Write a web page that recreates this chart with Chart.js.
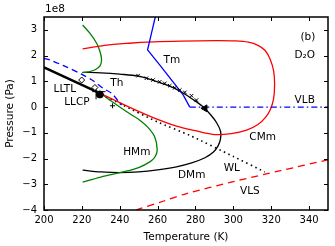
<!DOCTYPE html>
<html>
<head>
<meta charset="utf-8">
<script src="https://cdn.jsdelivr.net/npm/chart.js@4.4.0/dist/chart.umd.min.js"></script>
<style>
  html, body { margin: 0; padding: 0; background: #fff; }
</style>
</head>
<body>
<canvas id="phase" width="335" height="246"></canvas>
<script>
// temperature in K, pressure in units of 1e8 Pa
const xTicks = [200, 220, 240, 260, 280, 300, 320, 340];
const yTicks = [-4, -3, -2, -1, 0, 1, 2, 3];

// CMm (red loop)
const cmmT = [220.4, 232, 245, 258, 272, 290, 301, 308, 313, 316.8, 319.5, 321.3, 321.8, 321.2, 319.5, 317, 313, 307, 299, 289, 280, 270, 260, 250, 240, 230.5];
const cmmP = [2.26, 2.4, 2.48, 2.53, 2.56, 2.58, 2.57, 2.52, 2.4, 2.2, 1.85, 1.4, 0.86, 0.3, -0.1, -0.4, -0.68, -0.9, -1.03, -1.06, -0.92, -0.74, -0.48, -0.17, 0.17, 0.5];

// HMm (green), two branches
const hmmUpT = [220.4, 224.2, 227.8, 229.6, 230.4, 229.6, 227, 223.5, 220.2];
const hmmUpP = [3.19, 2.87, 2.48, 2.15, 1.85, 1.6, 1.45, 1.37, 1.34];
const hmmLowT = [230.5, 234.8, 240, 245.5, 250.6, 255, 258.5, 259.8, 258.5, 255.9, 250, 241.8, 230, 220.4];
const hmmLowP = [0.5, 0.27, 0.0, -0.27, -0.51, -0.8, -1.16, -1.67, -1.95, -2.13, -2.35, -2.52, -2.72, -2.92];

// Th / DMm (thin black)
const dmmT = [220.4, 230, 240, 250, 257.6, 265, 270, 275, 280, 284, 288, 291.1, 293.3, 293.2, 292, 289.5, 285, 278, 270, 260, 250, 240, 230, 220.4];
const dmmP = [1.35, 1.33, 1.28, 1.2, 1.04, 0.85, 0.69, 0.48, 0.23, 0.01, -0.3, -0.6, -0.95, -1.25, -1.5, -1.75, -1.97, -2.17, -2.32, -2.44, -2.52, -2.55, -2.52, -2.45];

// Tm (blue) and VLB (blue dash-dot)
const tmT = [259.1, 254.7, 261.2, 273.5, 277];
const tmP = [3.6, 2.22, 1.63, 0.47, 0.0];
const vlbT = [277, 350];
const vlbP = [0, 0];

// blue dashed line
const bdT = [200, 203.1, 210, 219.8, 226, 231.2, 235.7, 241];
const bdP = [1.89, 1.83, 1.62, 1.28, 1.02, 0.73, 0.53, 0.08];

// LLTL (thick black)
const lltlT = [200, 230];
const lltlP = [1.54, 0.52];

// WL (dotted) and VLS (red dashed)
const wlT = [230.5, 241, 260, 277, 300, 316.6];
const wlP = [0.5, 0.1, -0.58, -1.1, -1.92, -2.52];
const vlsT = [248.5, 262.9, 275.3, 300, 325, 350];
const vlsP = [-4.0, -3.66, -3.36, -2.9, -2.47, -2.05];

// markers
const simT = [249.7, 254.1, 257.6, 261.1, 263.8, 266.4, 269.1, 271.7, 274.4, 277.9, 280.5];
const simP = [1.22, 1.12, 1.05, 0.98, 0.92, 0.83, 0.75, 0.66, 0.57, 0.44, 0.27];
const diaT = [219.9, 226.9];
const diaP = [1.05, 0.76];
const llcpT = [229.5];
const llcpP = [0.49];
const errHT = [225.5, 232.5];
const errHP = [0.6, 0.6];
const errVT = [227.5, 227.5];
const errVP = [0.3, 0.78];
const plusT = [236.2];
const plusP = [0.05];
const arrowT = [285];
const arrowP = [-0.05];

// labels
const labelText = ["(b)", "D\u2082O", "VLB", "Tm", "Th", "LLTL", "LLCP", "HMm", "DMm", "CMm", "WL", "VLS"];
const labelT = [339.4, 337.7, 337.7, 267.5, 238.5, 211, 217.4, 249, 278, 315.5, 299.2, 308.7];
const labelP = [2.72, 2.02, 0.27, 1.83, 0.93, 0.7, 0.19, -1.75, -2.65, -1.17, -2.37, -3.27];

function pts(T, P) {
  return T.map((t, i) => ({ x: t, y: P[i] }));
}

function curve(T, P, color, width, dash, tension) {
  return {
    data: pts(T, P),
    showLine: true,
    borderColor: color,
    borderWidth: width,
    borderDash: dash || [],
    pointRadius: 0,
    tension: tension || 0,
  };
}

function marks(T, P, style, radius, fill, rotation) {
  return {
    data: pts(T, P),
    showLine: false,
    pointStyle: style,
    pointRadius: radius,
    pointBorderColor: "#000",
    pointBackgroundColor: fill,
    pointBorderWidth: 1,
    pointRotation: rotation || 0,
  };
}

const font = "DejaVu Sans";

const decor = {
  id: "decor",
  afterDraw(chart) {
    const { ctx, chartArea: a, scales } = chart;
    const sx = scales.x, sy = scales.y;
    ctx.save();
    ctx.strokeStyle = "#000";
    ctx.lineWidth = 1;
    ctx.beginPath();
    xTicks.forEach((v) => {
      const px = Math.round(sx.getPixelForValue(v)) + 0.5;
      ctx.moveTo(px, a.bottom);
      ctx.lineTo(px, a.bottom - 4);
      ctx.moveTo(px, a.top);
      ctx.lineTo(px, a.top + 4);
    });
    yTicks.forEach((v) => {
      const py = Math.round(sy.getPixelForValue(v)) + 0.5;
      ctx.moveTo(a.left, py);
      ctx.lineTo(a.left + 4, py);
      ctx.moveTo(a.right, py);
      ctx.lineTo(a.right - 4, py);
    });
    ctx.stroke();
    ctx.lineWidth = 1.5;
    ctx.strokeRect(a.left, a.top, a.right - a.left, a.bottom - a.top);

    ctx.fillStyle = "#000";
    ctx.font = "10.5px '" + font + "'";
    ctx.textAlign = "center";
    ctx.textBaseline = "middle";
    labelText.forEach((s, i) => {
      ctx.fillText(s, sx.getPixelForValue(labelT[i]), sy.getPixelForValue(labelP[i]));
    });
    ctx.textAlign = "left";
    ctx.fillText("1e8", a.left + 1, 9);
    ctx.restore();
  },
};

new Chart(document.getElementById("phase"), {
  type: "scatter",
  data: {
    datasets: [
      marks(llcpT, llcpP, "circle", 3.5, "#000"),
      marks(arrowT, arrowP, "triangle", 4, "#000", 150),
      marks(simT, simP, "crossRot", 2.5, "#000"),
      marks(diaT, diaP, "rectRot", 3, "#fff"),
      marks(plusT, plusP, "cross", 2.5, "#000"),
      curve(errHT, errHP, "#000", 1),
      curve(errVT, errVP, "#000", 1),
      curve(lltlT, lltlP, "#000", 2.5),
      curve(tmT, tmP, "#0000ff", 1.3),
      curve(vlbT, vlbP, "#0000ff", 1.3, [6, 3, 1.5, 3]),
      curve(bdT, bdP, "#0000ff", 1.3, [6, 4], 0.3),
      curve(cmmT, cmmP, "#ff0000", 1.3, null, 0.35),
      curve(wlT, wlP, "#000", 1.6, [1.5, 3.5], 0.2),
      curve(vlsT, vlsP, "#ff0000", 1.3, [7, 5], 0.3),
      curve(hmmUpT, hmmUpP, "#008000", 1.3, null, 0.35),
      curve(hmmLowT, hmmLowP, "#008000", 1.3, null, 0.35),
      curve(dmmT, dmmP, "#000", 1.3, null, 0.35),
    ],
  },
  options: {
    responsive: false,
    animation: false,
    layout: { padding: { top: 17, right: 7, left: 0, bottom: 0 } },
    plugins: { legend: { display: false }, tooltip: { enabled: false } },
    scales: {
      x: {
        type: "linear",
        min: 200,
        max: 350,
        afterBuildTicks: (s) => { s.ticks = xTicks.map((v) => ({ value: v })); },
        afterFit: (s) => { s.height = 36; },
        grid: { display: false, drawTicks: false },
        border: { display: false },
        ticks: { color: "#000", font: { family: font, size: 10 }, padding: 4, maxRotation: 0 },
        title: { display: true, text: "Temperature (K)", color: "#000", font: { family: font, size: 10.5 }, padding: { top: 0, bottom: 2 } },
      },
      y: {
        type: "linear",
        min: -4,
        max: 3.5,
        afterBuildTicks: (s) => { s.ticks = yTicks.map((v) => ({ value: v })); },
        afterFit: (s) => { s.width = 44; },
        grid: { display: false, drawTicks: false },
        border: { display: false },
        ticks: {
          color: "#000",
          font: { family: font, size: 10 },
          padding: 7,
          callback: (v) => (v < 0 ? "\u2212" + Math.abs(v) : String(v)),
        },
        title: { display: true, text: "Pressure (Pa)", color: "#000", font: { family: font, size: 10.5 }, padding: { top: 4, bottom: 0 } },
      },
    },
  },
  plugins: [decor],
});
</script>
</body>
</html>
